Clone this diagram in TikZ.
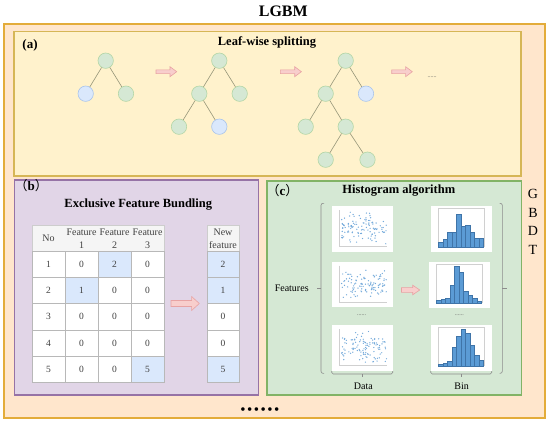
\documentclass[tikz,border=0pt]{standalone}
\usepackage{fontspec}
\setmainfont{Liberation Serif}
\newfontfamily\cjk{Noto Sans CJK SC}
\definecolor{outerf}{HTML}{FFE6CC}
\definecolor{outerb}{HTML}{E3AC3A}
\definecolor{af}{HTML}{FFF2CC}
\definecolor{ab}{HTML}{D6B656}
\definecolor{bf}{HTML}{E1D5E7}
\definecolor{bb}{HTML}{9673A6}
\definecolor{cf}{HTML}{D5E8D4}
\definecolor{cb}{HTML}{82B366}
\definecolor{tg}{HTML}{D5E8D4}
\definecolor{tgb}{HTML}{B3D6A6}
\definecolor{tb}{HTML}{DAE8FC}
\definecolor{tbb}{HTML}{A9C4EB}
\definecolor{edgec}{HTML}{959578}
\definecolor{arrf}{HTML}{F8CECC}
\definecolor{arrb}{HTML}{E8A3A3}
\definecolor{hdrf}{HTML}{F5F5F5}
\definecolor{cellb}{HTML}{B8B8B8}
\definecolor{blc}{HTML}{DAE8FC}
\definecolor{dotc}{HTML}{5B9BD5}
\definecolor{barf}{HTML}{5B9BD5}
\definecolor{barb}{HTML}{3F74A8}
\definecolor{axisc}{HTML}{D0D0D0}
\definecolor{brc}{HTML}{8C8C8C}
\definecolor{tabtxt}{HTML}{404040}

\newcommand\blockarrow[6]{%
  \filldraw[arrowst] (#1,#3-#4) -- (#2-#6,#3-#4) -- (#2-#6,#3-#5) -- (#2,#3)
    -- (#2-#6,#3+#5) -- (#2-#6,#3+#4) -- (#1,#3+#4) -- cycle;}
\newcommand\scatterplot[3]{%
  \fill[white] (#1,#2) rectangle ++(60.5,45.7);
  \draw[axisline] (#1+7.7,#2+4) -- (#1+7.7,#2+40.7) -- (#1+55.3,#2+40.7);
  \pgfmathsetseed{#3}
  \foreach \i in {1,...,110}{\fill[dotc!85] ({#1+9.5+45*rnd},{#2+6+33*(rnd+rnd)/2}) circle (0.7pt);}
}
\newcommand\histplot[3]{%
  \fill[white] (#1,#2) rectangle ++(61,45.7);
  \draw[axisline] (#1+7,#2+2.5) rectangle (#1+53.5,#2+40.7);
  \foreach \h [count=\k from 0] in {#3}{\filldraw[fill=barf,draw=barb,line width=0.3pt] ({#1+7.5+4.5*\k},#2+40.7) rectangle ++(4.5,{-38*\h});}
}

\begin{document}
\begin{tikzpicture}[x=1pt,y=-1pt,
  treeg/.style={circle,minimum size=15.4pt,inner sep=0pt,fill=tg,draw=tgb,line width=0.6pt},
  treeb/.style={treeg,fill=tb,draw=tbb},
  tedge/.style={draw=edgec,line width=0.6pt},
  arrowst/.style={fill=arrf,draw=arrb,line width=0.6pt},
  axisline/.style={draw=axisc,line width=0.6pt},
  brk/.style={draw=brc,line width=0.6pt},
  ttl/.style={font=\bfseries\fontsize{12.5}{14}\selectfont,inner sep=0pt},
  cell/.style={rectangle,draw=cellb,fill=white,line width=0.5pt,minimum width=33pt,minimum height=26.3pt,inner sep=0pt,text=tabtxt,font=\fontsize{9.5}{12.5}\selectfont},
  cellb/.style={cell,fill=blc},
  hdr/.style={inner sep=0pt,align=center,text=tabtxt,font=\fontsize{10}{12.7}\selectfont},
  lbl/.style={inner sep=0pt,font=\fontsize{10}{12}\selectfont},
  small/.style={inner sep=0pt,text=black!65,font=\fontsize{6}{6}\selectfont}]
\useasboundingbox (0,0) rectangle (550,423);
\fill[white] (0,0) rectangle (550,423);

% title
\node[font=\bfseries\fontsize{16}{18}\selectfont,inner sep=0pt] (title) at (283.3,11) {LGBM};

% outer box
\filldraw[fill=outerf,draw=outerb,line width=1.2pt] (4,24) rectangle (545,418);

% box (a)
\filldraw[fill=af,draw=ab,line width=1.1pt] (14,31.5) rectangle (521,176);
\node[ttl,anchor=west,font=\bfseries\fontsize{13}{14}\selectfont] (alab) at (22.3,45) {(a)};
\node[ttl] (atitle) at (267,42) {Leaf-wise splitting};

% tree 1
\node[treeg] (t1r) at (105.7,60.7) {};
\node[treeb] (t1a) at (85.7,93.7) {};
\node[treeg] (t1b) at (126,93.7) {};
\draw[tedge] (t1r) -- (t1a);
\draw[tedge] (t1r) -- (t1b);
% tree 2
\node[treeg] (t2r) at (219.3,60.7) {};
\node[treeg] (t2a) at (199.3,93.7) {};
\node[treeg] (t2b) at (239.7,93.7) {};
\node[treeg] (t2c) at (179,126.7) {};
\node[treeb] (t2d) at (219.3,126.7) {};
\draw[tedge] (t2r) -- (t2a);
\draw[tedge] (t2r) -- (t2b);
\draw[tedge] (t2a) -- (t2c);
\draw[tedge] (t2a) -- (t2d);
% tree 3
\node[treeg] (t3r) at (345.7,60.7) {};
\node[treeg] (t3a) at (325.7,93.7) {};
\node[treeb] (t3b) at (366,93.7) {};
\node[treeg] (t3c) at (305.7,126.7) {};
\node[treeg] (t3d) at (345.7,126.7) {};
\node[treeg] (t3e) at (325.7,159.7) {};
\node[treeg] (t3f) at (367.5,159.7) {};
\draw[tedge] (t3r) -- (t3a);
\draw[tedge] (t3r) -- (t3b);
\draw[tedge] (t3a) -- (t3c);
\draw[tedge] (t3a) -- (t3d);
\draw[tedge] (t3d) -- (t3e);
\draw[tedge] (t3d) -- (t3f);
% arrows in (a)
\blockarrow{156}{176.7}{71.7}{1.9}{5}{6.7}
\blockarrow{280.4}{301.4}{71.7}{1.9}{5}{6.7}
\blockarrow{391.7}{412.3}{71.7}{1.9}{5}{6.7}
\node[small] (adots) at (432,77.5) {......};

% box (b)
\filldraw[fill=bf,draw=bb,line width=1.1pt] (14.5,180) rectangle (258.3,395);
\node[anchor=west,inner sep=0pt,font=\fontsize{13}{14}\selectfont] (blab) at (14.5,186) {{\cjk （}\textbf{b}{\cjk ）}};
\node[ttl] (btitle) at (138.3,205) {Exclusive Feature Bundling};

% table header
\filldraw[fill=hdrf,draw=cellb!70,line width=0.5pt] (32,225) rectangle (164,251);
\node[hdr] (hno) at (48.5,238) {No};
\node[hdr] (hf1) at (81.5,238.5) {Feature\\1};
\node[hdr] (hf2) at (114.5,238.5) {Feature\\2};
\node[hdr] (hf3) at (147.5,238.5) {Feature\\3};
% rows
\node[cell]  (c11) at (48.5,264.15) {1};
\node[cell]  (c12) at (81.5,264.15) {0};
\node[cellb] (c13) at (114.5,264.15) {2};
\node[cell]  (c14) at (147.5,264.15) {0};
\node[cell]  (c21) at (48.5,290.45) {2};
\node[cellb] (c22) at (81.5,290.45) {1};
\node[cell]  (c23) at (114.5,290.45) {0};
\node[cell]  (c24) at (147.5,290.45) {0};
\node[cell]  (c31) at (48.5,316.75) {3};
\node[cell]  (c32) at (81.5,316.75) {0};
\node[cell]  (c33) at (114.5,316.75) {0};
\node[cell]  (c34) at (147.5,316.75) {0};
\node[cell]  (c41) at (48.5,343.05) {4};
\node[cell]  (c42) at (81.5,343.05) {0};
\node[cell]  (c43) at (114.5,343.05) {0};
\node[cell]  (c44) at (147.5,343.05) {0};
\node[cell]  (c51) at (48.5,369.35) {5};
\node[cell]  (c52) at (81.5,369.35) {0};
\node[cell]  (c53) at (114.5,369.35) {0};
\node[cellb] (c54) at (147.5,369.35) {5};
% new feature column
\filldraw[fill=hdrf,draw=cellb!70,line width=0.5pt] (207,225) rectangle (239,251);
\node[hdr] (hnew) at (223,238.5) {New\\feature};
\node[cellb,minimum width=32pt] (n1) at (223,264.15) {2};
\node[cellb,minimum width=32pt] (n2) at (223,290.45) {1};
\node[cell,minimum width=32pt]  (n3) at (223,316.75) {0};
\node[cell,minimum width=32pt]  (n4) at (223,343.05) {0};
\node[cellb,minimum width=32pt] (n5) at (223,369.35) {5};
\blockarrow{171}{199.3}{303.5}{3}{7}{7.7}

% box (c)
\filldraw[fill=cf,draw=cb,line width=1.1pt] (267,181) rectangle (521.7,395);
\node[anchor=west,inner sep=0pt,font=\fontsize{13}{14}\selectfont] (clab) at (266.5,190.7) {{\cjk （}\textbf{c}{\cjk ）}};
\node[ttl] (ctitle) at (398.8,191) {Histogram algorithm};

\scatterplot{332}{206}{11}
\scatterplot{332}{261.7}{23}
\scatterplot{332}{325}{37}
\histplot{431}{206}{0.11,0.2,0.37,0.37,0.86,0.55,0.57,0.37,0.23,0.23}
\histplot{429}{262}{0.06,0.09,0.12,0.45,0.95,0.8,0.3,0.2,0.12,0.05}
\histplot{431}{325}{0.05,0.08,0.12,0.5,0.78,0.95,0.85,0.55,0.28,0.15}
\node[small] (ddots) at (361.7,315.5) {......};
\node[small] (hdots) at (459.3,315.5) {......};
\blockarrow{401.5}{419.7}{290}{2.4}{4.8}{7}

% brackets
\node[lbl] (feat) at (291.7,288) {Features};
\coordinate (lt) at (316.7,288);
\coordinate (lb) at (321,288);
\draw[brk,rounded corners=2pt] (324,203.3) -| (lb) |- (324,373.3);
\draw[brk] (lb) -- (lt);
\coordinate (rb) at (502.3,288);
\coordinate (rt) at (506.7,288);
\draw[brk,rounded corners=2pt] (499.5,203.3) -| (rb) |- (499.5,373.3);
\draw[brk] (rb) -- (rt);
\coordinate (db) at (362.2,374);
\coordinate (bb) at (461.2,374);
\draw[brk,rounded corners=1.5pt] (331.7,371) |- (db) -| (392.7,371);
\draw[brk] (db) -- ++(0,3);
\draw[brk,rounded corners=1.5pt] (430.7,371) |- (bb) -| (491.7,371);
\draw[brk] (bb) -- ++(0,3);
\node[lbl] (data) at (363.3,386) {Data};
\node[lbl] (bin) at (461.7,386) {Bin};

% GBDT
\node[inner sep=0pt,align=center,font=\fontsize{14}{18.5}\selectfont] (gbdt) at (533,222) {G\\B\\D\\T};

% bottom dots
\node[inner sep=0pt,anchor=base,font=\fontsize{15}{15}\selectfont] (more) at (260,414.5) {•\hspace{1.5pt}•\hspace{1.5pt}•\hspace{1.5pt}•\hspace{1.5pt}•\hspace{1.5pt}•};
\end{tikzpicture}
\end{document}
